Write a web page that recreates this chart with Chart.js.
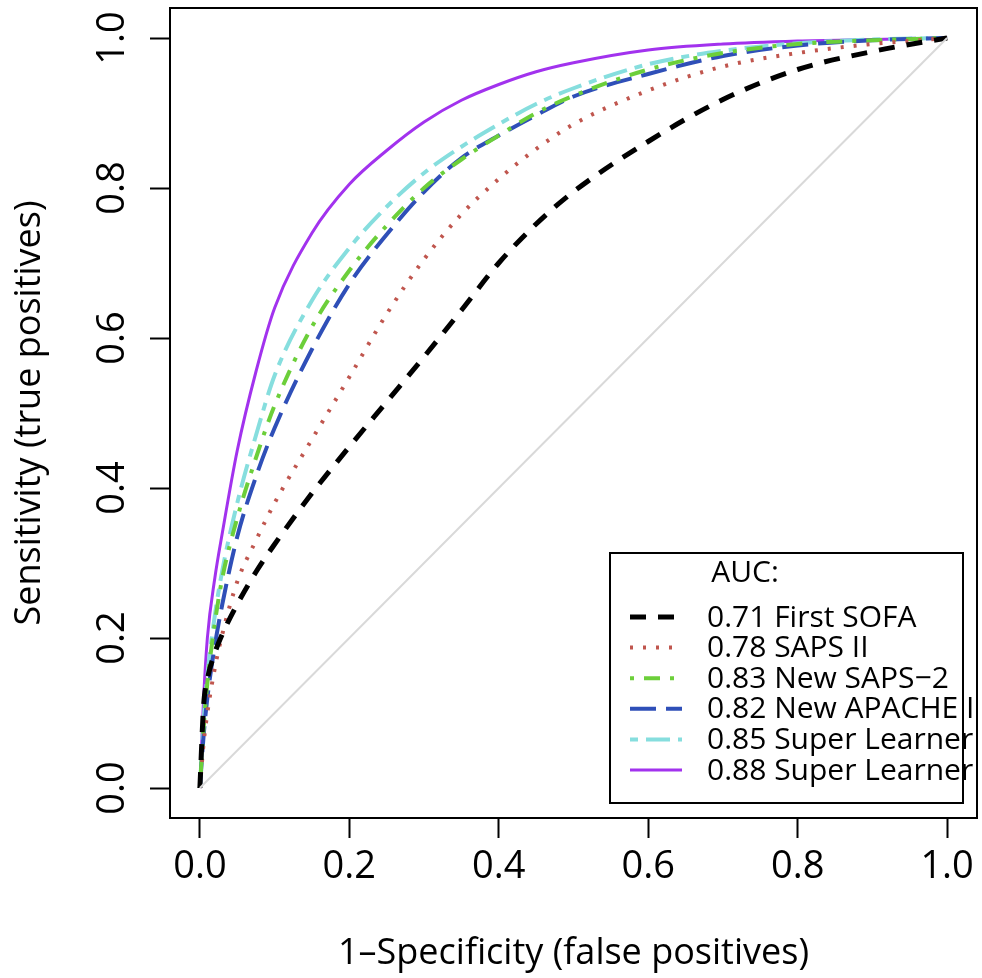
<!DOCTYPE html>
<html lang="en">
<head>
<meta charset="UTF-8">
<title>ROC curves</title>
<script src="https://cdn.jsdelivr.net/npm/chart.js"></script>
<style>
  html, body { margin: 0; padding: 0; background: #fff; }
  .chart-container { position: relative; width: 982px; height: 978px; }
</style>
</head>
<body>
<div class="chart-container"><canvas id="rocChart"></canvas></div>
<script>
  // shared false-positive grid
  const fpr = [0, 0.005, 0.01, 0.02, 0.03, 0.05, 0.075, 0.1, 0.15, 0.2, 0.25, 0.3, 0.35, 0.4, 0.45, 0.5, 0.6, 0.7, 0.8, 0.9, 1];

  // sensitivity for each model
  const tprSofa    = [0, 0.11, 0.145, 0.18, 0.205, 0.245, 0.288, 0.325, 0.393, 0.455, 0.515, 0.575, 0.637, 0.70, 0.752, 0.795, 0.862, 0.918, 0.958, 0.982, 1];
  const tprSaps    = [0, 0.06, 0.10, 0.16, 0.205, 0.275, 0.33, 0.38, 0.465, 0.548, 0.632, 0.705, 0.765, 0.812, 0.852, 0.885, 0.93, 0.962, 0.98, 0.992, 1];
  const tprNewSaps = [0, 0.08, 0.14, 0.22, 0.28, 0.36, 0.44, 0.51, 0.615, 0.69, 0.75, 0.80, 0.838, 0.87, 0.90, 0.923, 0.958, 0.98, 0.992, 0.997, 1];
  const tprApache  = [0, 0.07, 0.12, 0.19, 0.245, 0.335, 0.415, 0.48, 0.585, 0.672, 0.738, 0.795, 0.84, 0.87, 0.897, 0.922, 0.952, 0.976, 0.99, 0.997, 1];
  const tprSL1     = [0, 0.09, 0.15, 0.23, 0.29, 0.38, 0.47, 0.55, 0.65, 0.72, 0.775, 0.82, 0.855, 0.885, 0.912, 0.933, 0.965, 0.983, 0.993, 0.998, 1];
  const tprSL2     = [0, 0.12, 0.20, 0.28, 0.34, 0.45, 0.555, 0.64, 0.74, 0.805, 0.85, 0.888, 0.917, 0.938, 0.955, 0.967, 0.984, 0.992, 0.996, 0.998, 1];

  const diagX = [0, 1];
  const diagY = [0, 1];

  const seriesLabels = ['0.71 First SOFA', '0.78 SAPS II', '0.83 New SAPS\u22122', '0.82 New APACHE II', '0.85 Super Learner', '0.88 Super Learner'];
  const tickVals = [0, 0.2, 0.4, 0.6, 0.8, 1.0];

  const toPts = (xs, ys) => xs.map((x, i) => ({ x: x, y: ys[i] }));

  const styles = [
    { color: '#000000', width: 5, dash: [16, 12] },
    { color: '#c0564e', width: 4, dash: [3, 10] },
    { color: '#6ccf3a', width: 4, dash: [4, 10, 16, 10] },
    { color: '#2f4fb8', width: 4, dash: [26, 10] },
    { color: '#86dede', width: 4, dash: [8, 8, 24, 8] },
    { color: '#a232ee', width: 3, dash: [] }
  ];
  const tprs = [tprSofa, tprSaps, tprNewSaps, tprApache, tprSL1, tprSL2];

  const datasets = [{
    label: 'reference',
    data: toPts(diagX, diagY),
    borderColor: '#d9d9d9',
    borderWidth: 2,
    pointRadius: 0,
    showLine: true
  }];
  tprs.forEach((t, i) => {
    datasets.push({
      label: seriesLabels[i],
      data: toPts(fpr, t),
      borderColor: styles[i].color,
      borderWidth: styles[i].width,
      borderDash: styles[i].dash,
      pointRadius: 0,
      showLine: true,
      cubicInterpolationMode: 'monotone'
    });
  });

  // plot frame
  const boxPlugin = {
    id: 'box',
    afterDatasetsDraw(chart) {
      const a = chart.chartArea, ctx = chart.ctx;
      ctx.save();
      ctx.strokeStyle = '#000';
      ctx.lineWidth = 2;
      ctx.strokeRect(a.left, a.top, a.right - a.left, a.bottom - a.top);
      ctx.restore();
    }
  };

  // R-style legend box in the bottom right corner
  const aucLegend = {
    id: 'aucLegend',
    afterDatasetsDraw(chart) {
      const a = chart.chartArea, ctx = chart.ctx;
      const left = a.right - 367, right = a.right - 14;
      const top = a.bottom - 265, bottom = a.bottom - 15;
      ctx.save();
      ctx.beginPath();
      ctx.rect(a.left, a.top, a.right - a.left, a.bottom - a.top);
      ctx.clip();
      ctx.fillStyle = '#fff';
      ctx.fillRect(left, top, right - left, bottom - top);
      ctx.strokeStyle = '#000';
      ctx.lineWidth = 2;
      ctx.strokeRect(left, top, right - left, bottom - top);
      ctx.fillStyle = '#000';
      ctx.font = '30px "Open Sans"';
      ctx.textBaseline = 'middle';
      ctx.textAlign = 'center';
      ctx.fillText('AUC:', left + 135, top + 20);
      ctx.textAlign = 'left';
      chart.data.datasets.slice(1).forEach((ds, i) => {
        const y = top + 64 + i * 30.6;
        ctx.beginPath();
        ctx.setLineDash(ds.borderDash);
        ctx.strokeStyle = ds.borderColor;
        ctx.lineWidth = ds.borderWidth;
        ctx.moveTo(left + 20, y);
        ctx.lineTo(left + 72, y);
        ctx.stroke();
        ctx.setLineDash([]);
        ctx.fillStyle = '#000';
        ctx.fillText(ds.label, left + 97, y + 1);
      });
      ctx.restore();
    }
  };

  Chart.defaults.font.family = '"Open Sans", sans-serif';
  Chart.defaults.color = '#000';

  new Chart(document.getElementById('rocChart'), {
    type: 'scatter',
    data: { datasets: datasets },
    options: {
      responsive: true,
      maintainAspectRatio: false,
      animation: false,
      layout: { padding: { top: 8, right: 5, left: 0, bottom: 0 } },
      plugins: {
        legend: { display: false },
        tooltip: { enabled: false }
      },
      scales: {
        x: {
          type: 'linear',
          min: -0.04,
          max: 1.04,
          afterBuildTicks: s => { s.ticks = tickVals.map(v => ({ value: v })); },
          afterFit: s => { s.height = 160; s.paddingLeft = 0; s.paddingRight = 0; },
          grid: { drawOnChartArea: false, drawTicks: true, tickLength: 20, tickColor: '#000', tickWidth: 2 },
          border: { display: true, color: '#000', width: 2 },
          ticks: { font: { size: 38 }, padding: 6, maxRotation: 0, callback: v => v.toFixed(1) },
          title: { display: true, text: '1\u2013Specificity (false positives)', font: { size: 36 }, padding: { top: 0, bottom: 3 } }
        },
        y: {
          type: 'linear',
          min: -0.04,
          max: 1.04,
          afterBuildTicks: s => { s.ticks = tickVals.map(v => ({ value: v })); },
          afterFit: s => { s.width = 170; s.paddingTop = 0; s.paddingBottom = 0; },
          grid: { drawOnChartArea: false, drawTicks: true, tickLength: 20, tickColor: '#000', tickWidth: 2 },
          border: { display: true, color: '#000', width: 2 },
          ticks: { font: { size: 38 }, padding: 10, minRotation: 90, maxRotation: 90, crossAlign: 'center', callback: v => v.toFixed(1) },
          title: { display: true, text: 'Sensitivity (true positives)', font: { size: 36 }, padding: { top: 8, bottom: 0 } }
        }
      }
    },
    plugins: [boxPlugin, aucLegend]
  });
</script>
</body>
</html>
